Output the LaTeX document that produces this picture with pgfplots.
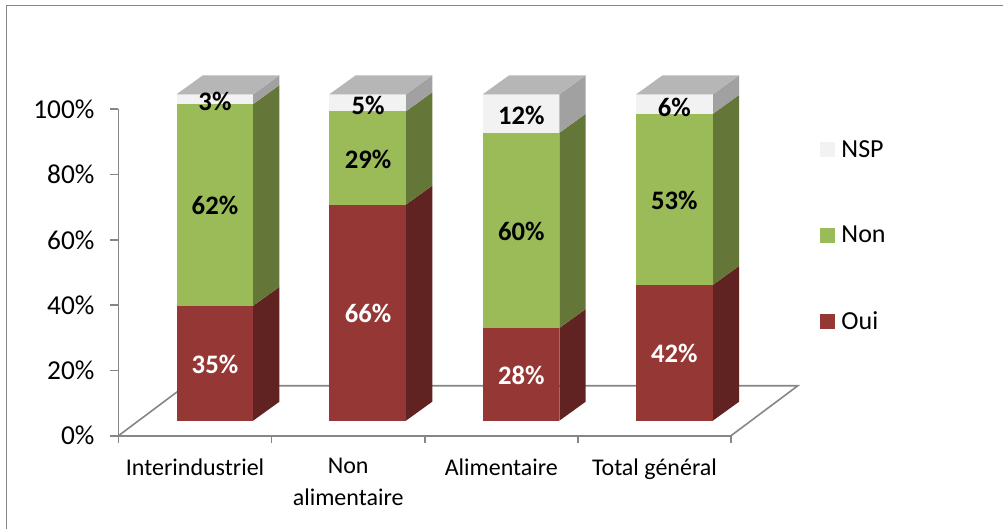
\documentclass[border=0pt]{standalone}
\usepackage{pgfplots}
\pgfplotsset{compat=1.18}
\usepackage{fontspec}
\setmainfont{Carlito}
\definecolor{axisgrey}{HTML}{868686}
\definecolor{redF}{HTML}{953735}
\definecolor{redS}{HTML}{612322}
\definecolor{greenF}{HTML}{9BBB59}
\definecolor{greenS}{HTML}{647739}
\definecolor{nspF}{HTML}{F2F2F2}
\definecolor{nspS}{HTML}{A1A1A1}
\definecolor{nspT}{HTML}{B6B6B6}
% #1 bar left, #2 low, #3 high, #4 front colour, #5 side colour
\newcommand{\seg}[5]{%
  \addplot[forget plot,draw=none,fill=#5] coordinates {({#1+0.5},{#2+4.6}) ({#1+0.672},{#2+10.42}) ({#1+0.672},{#3+10.42}) ({#1+0.5},{#3+4.6})} --cycle;
  \addplot[forget plot,draw=none,fill=#4] coordinates {(#1,{#2+4.6}) ({#1+0.5},{#2+4.6}) ({#1+0.5},{#3+4.6}) (#1,{#3+4.6})} --cycle;
}
\newcommand{\topface}[1]{%
  \addplot[forget plot,draw=none,fill=nspT] coordinates {(#1,104.6) ({#1+0.5},104.6) ({#1+0.672},110.42) ({#1+0.172},110.42)} --cycle;
}
\newcommand{\lab}[4]{\node[text=#4,font=\fontsize{20}{22}\selectfont\bfseries] at (axis cs:#1,#2) {#3};}
\begin{document}
\begin{tikzpicture}
\path[use as bounding box] (0pt,0pt) rectangle (752.25pt,396.75pt);
\begin{axis}[
  at={(88.875pt,69.975pt)},anchor=south west,
  scale only axis,width=459.4pt,height=244.8pt,
  xmin=0,xmax=4,ymin=0,ymax=100,clip=false,
  axis x line=bottom,axis y line=left,
  axis line style={-,draw=axisgrey,line width=1.2pt},
  tick style={draw=axisgrey,line width=1.2pt},
  tick align=outside,
  ytick={0,20,40,60,80,100},
  yticklabels={0\%,20\%,40\%,60\%,80\%,100\%},
  xtick={0.5,1.5,2.5,3.5},
  xticklabels={Interindustriel,Non\\[3.5pt]alimentaire,Alimentaire,Total général},
  minor xtick={0,1,2,3,4},
  major x tick style={draw=none},
  minor tick length=5.5pt,
  major tick length=6pt,
  xticklabel style={align=center,font=\fontsize{18}{20}\selectfont,anchor=north,yshift=-7.5pt},
  yticklabel style={font=\fontsize{20.5}{22}\selectfont,xshift=-8.5pt},
  legend cell align=left,
  legend style={at={(1.145,0.612)},anchor=west,draw=none,fill=none,inner sep=0pt,
    row sep=46.2pt,font=\fontsize{19.5}{21}\selectfont},
  legend image code/.code={\fill[#1] (0pt,-5.6pt) rectangle (11.25pt,5.6pt);\path (14pt,0pt);},
]
\addlegendimage{fill=nspF,draw=none}\addlegendentry{NSP}
\addlegendimage{fill=greenF,draw=none}\addlegendentry{Non}
\addlegendimage{fill=redF,draw=none}\addlegendentry{Oui}
% floor
\addplot[forget plot,draw=axisgrey,line width=1.2pt] coordinates {(0,0) (0.436,15.3) (4.436,15.3) (4,0)};
% Interindustriel
\seg{0.379}{0}{35.2}{redF}{redS}
\seg{0.379}{35.2}{97}{greenF}{greenS}
\seg{0.379}{97}{100}{nspF}{nspS}
\topface{0.379}
% Non alimentaire
\seg{1.377}{0}{66.2}{redF}{redS}
\seg{1.377}{66.2}{94.8}{greenF}{greenS}
\seg{1.377}{94.8}{100}{nspF}{nspS}
\topface{1.377}
% Alimentaire
\seg{2.379}{0}{28.4}{redF}{redS}
\seg{2.379}{28.4}{88.2}{greenF}{greenS}
\seg{2.379}{88.2}{100}{nspF}{nspS}
\topface{2.379}
% Total general
\seg{3.381}{0}{41.6}{redF}{redS}
\seg{3.381}{41.6}{94}{greenF}{greenS}
\seg{3.381}{94}{100}{nspF}{nspS}
\topface{3.381}
\lab{0.63}{102.5}{3\%}{black}
\lab{0.63}{70.5}{62\%}{black}
\lab{0.63}{21.9}{35\%}{white}
\lab{1.63}{101.3}{5\%}{black}
\lab{1.63}{84.5}{29\%}{black}
\lab{1.63}{37.6}{66\%}{white}
\lab{2.63}{98}{12\%}{black}
\lab{2.63}{62.5}{60\%}{black}
\lab{2.63}{18.5}{28\%}{white}
\lab{3.63}{100.7}{6\%}{black}
\lab{3.63}{72}{53\%}{black}
\lab{3.63}{25.2}{42\%}{white}
\end{axis}
\draw[axisgrey,line width=1.2pt] (4.875pt,0pt) -- (4.875pt,392.6pt) -- (752.25pt,392.6pt);
\end{tikzpicture}
\end{document}
